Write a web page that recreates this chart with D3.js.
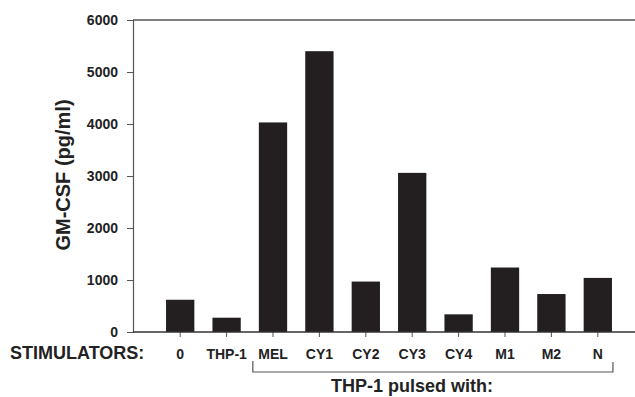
<!DOCTYPE html>
<html>
<head>
<meta charset="utf-8">
<script src="https://cdn.jsdelivr.net/npm/d3@7"></script>
<style>
  body { margin: 0; background: #fff; }
  svg { display: block; font-family: "Liberation Sans", Arial, sans-serif; }
</style>
</head>
<body>
<svg width="635" height="397"></svg>
<script>
var categories = ['0', 'THP-1', 'MEL', 'CY1', 'CY2', 'CY3', 'CY4', 'M1', 'M2', 'N'];
var values = [620, 275, 4030, 5400, 970, 3060, 340, 1240, 730, 1040];
var yTicks = [0, 1000, 2000, 3000, 4000, 5000, 6000];
var pulsed = ['MEL', 'N']; // bracket spans these

function drawChart() {
  var svg = d3.select('svg');
  var ink = '#222';
  var left = 133, right = 635, top = 20, bottom = 332;

  var x = d3.scaleBand()
    .domain(categories)
    .range([157, 621])
    .paddingInner(0.39)
    .paddingOuter(0.195);
  var y = d3.scaleLinear()
    .domain([0, 6000])
    .range([bottom, top]);

  // frame line on top
  svg.append('line')
    .attr('x1', left).attr('x2', right)
    .attr('y1', top).attr('y2', top)
    .attr('stroke', '#555').attr('stroke-width', 1.3);

  // bars
  svg.append('g')
    .selectAll('rect')
    .data(values)
    .enter()
    .append('rect')
    .attr('x', function (d, i) { return x(categories[i]); })
    .attr('y', function (d) { return y(d); })
    .attr('width', x.bandwidth())
    .attr('height', function (d) { return bottom - y(d); })
    .attr('fill', '#231f20');

  // y axis
  var yAxis = svg.append('g')
    .attr('transform', 'translate(' + left + ',0)')
    .call(d3.axisLeft(y).tickValues(yTicks).tickSize(6).tickPadding(9).tickFormat(d3.format('d')));
  yAxis.select('.domain').attr('stroke', '#555').attr('stroke-width', 1.2);
  yAxis.selectAll('.tick line').attr('stroke', '#555');
  yAxis.selectAll('text')
    .attr('fill', ink)
    .attr('font-size', 14)
    .attr('font-weight', 'bold');

  // x axis
  var xAxis = svg.append('g')
    .attr('transform', 'translate(0,' + bottom + ')')
    .call(d3.axisBottom(x).tickSize(5).tickPadding(12));
  xAxis.select('.domain').remove();
  xAxis.selectAll('.tick line').attr('stroke', '#555');
  xAxis.selectAll('text')
    .attr('fill', ink)
    .attr('font-size', 14)
    .attr('font-weight', 'bold');
  svg.append('line')
    .attr('x1', left).attr('x2', right)
    .attr('y1', bottom).attr('y2', bottom)
    .attr('stroke', '#333').attr('stroke-width', 1.3);

  svg.append('text')
    .attr('x', 10).attr('y', 358.5)
    .attr('font-size', 18)
    .attr('font-weight', 'bold')
    .attr('fill', ink)
    .text('STIMULATORS:');

  // y title
  svg.append('text')
    .attr('transform', 'translate(70,175) rotate(-90)')
    .attr('text-anchor', 'middle')
    .attr('font-size', 20)
    .attr('font-weight', 'bold')
    .attr('fill', ink)
    .text('GM-CSF (pg/ml)');

  // bracket for pulsed group
  var bx0 = x(pulsed[0]) - 6, bx1 = x(pulsed[1]) + x.bandwidth() + 1;
  svg.append('path')
    .attr('d', 'M' + bx0 + ',361V372H' + bx1 + 'V362')
    .attr('fill', 'none')
    .attr('stroke', '#555')
    .attr('stroke-width', 1.2);
  svg.append('text')
    .attr('x', 412).attr('y', 392)
    .attr('text-anchor', 'middle')
    .attr('font-size', 18)
    .attr('font-weight', 'bold')
    .attr('fill', ink)
    .text('THP-1 pulsed with:');
}

drawChart();
</script>
</body>
</html>
